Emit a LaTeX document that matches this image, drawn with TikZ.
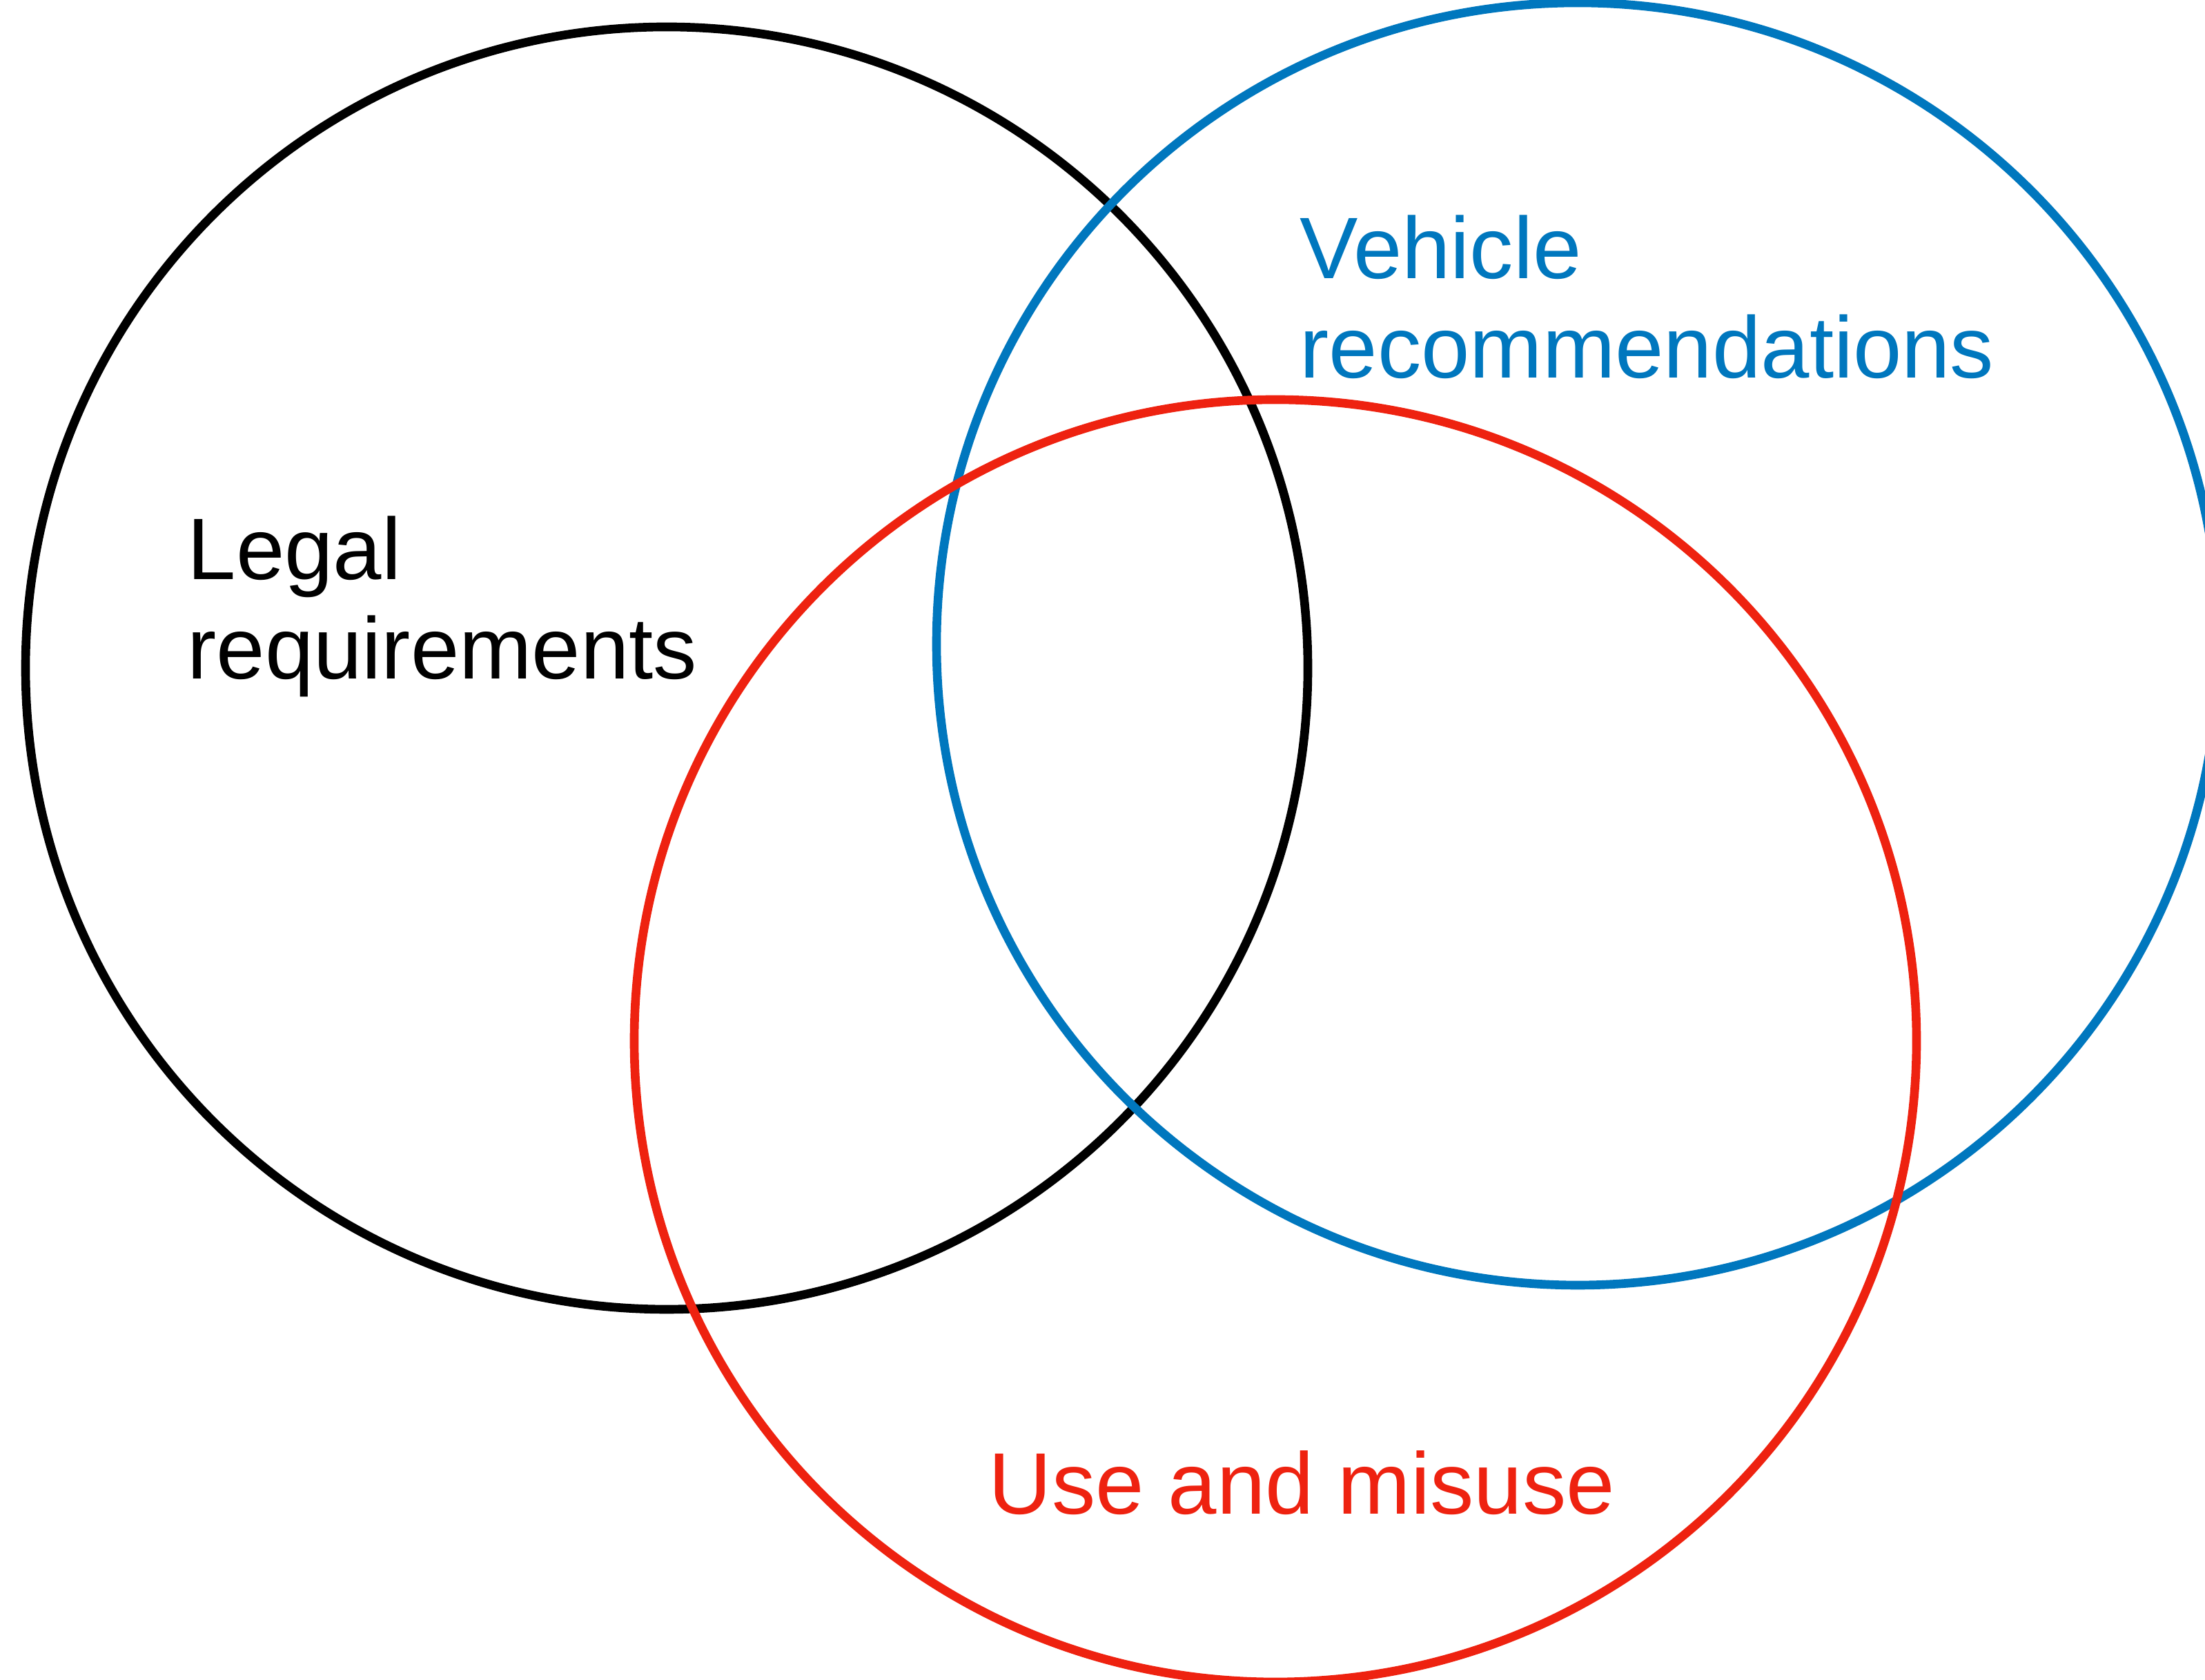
\documentclass[tikz,border=0pt]{standalone}
\usepackage{fontspec}
\setmainfont{Liberation Sans}
\usepackage{tikz}

\definecolor{legalblack}{RGB}{0,0,0}
\definecolor{vehblue}{RGB}{0,119,190}
\definecolor{usered}{RGB}{238,34,16}

\begin{document}
\begin{tikzpicture}[ring/.style={line width=3.6pt},
  lbl/.style={anchor=base west, inner sep=0pt, align=left, font=\fontsize{36}{41}\selectfont}]
\useasboundingbox (0,0) rectangle (31.95,24.34);
\draw [ring, legalblack] (9.66,14.66) circle (9.29);
\draw [ring, vehblue] (22.86,15.01) circle (9.29);
\draw [ring, usered] (18.48,9.26) circle (9.29);

\node [lbl, text=legalblack] (legal) at (2.71,14.50) {Legal\\requirements};
\node [lbl, text=vehblue] (vehicle) at (18.83,18.86) {Vehicle\\recommendations};
\node [lbl, text=usered] (use) at (14.32,2.40) {Use and misuse};
\end{tikzpicture}
\end{document}
